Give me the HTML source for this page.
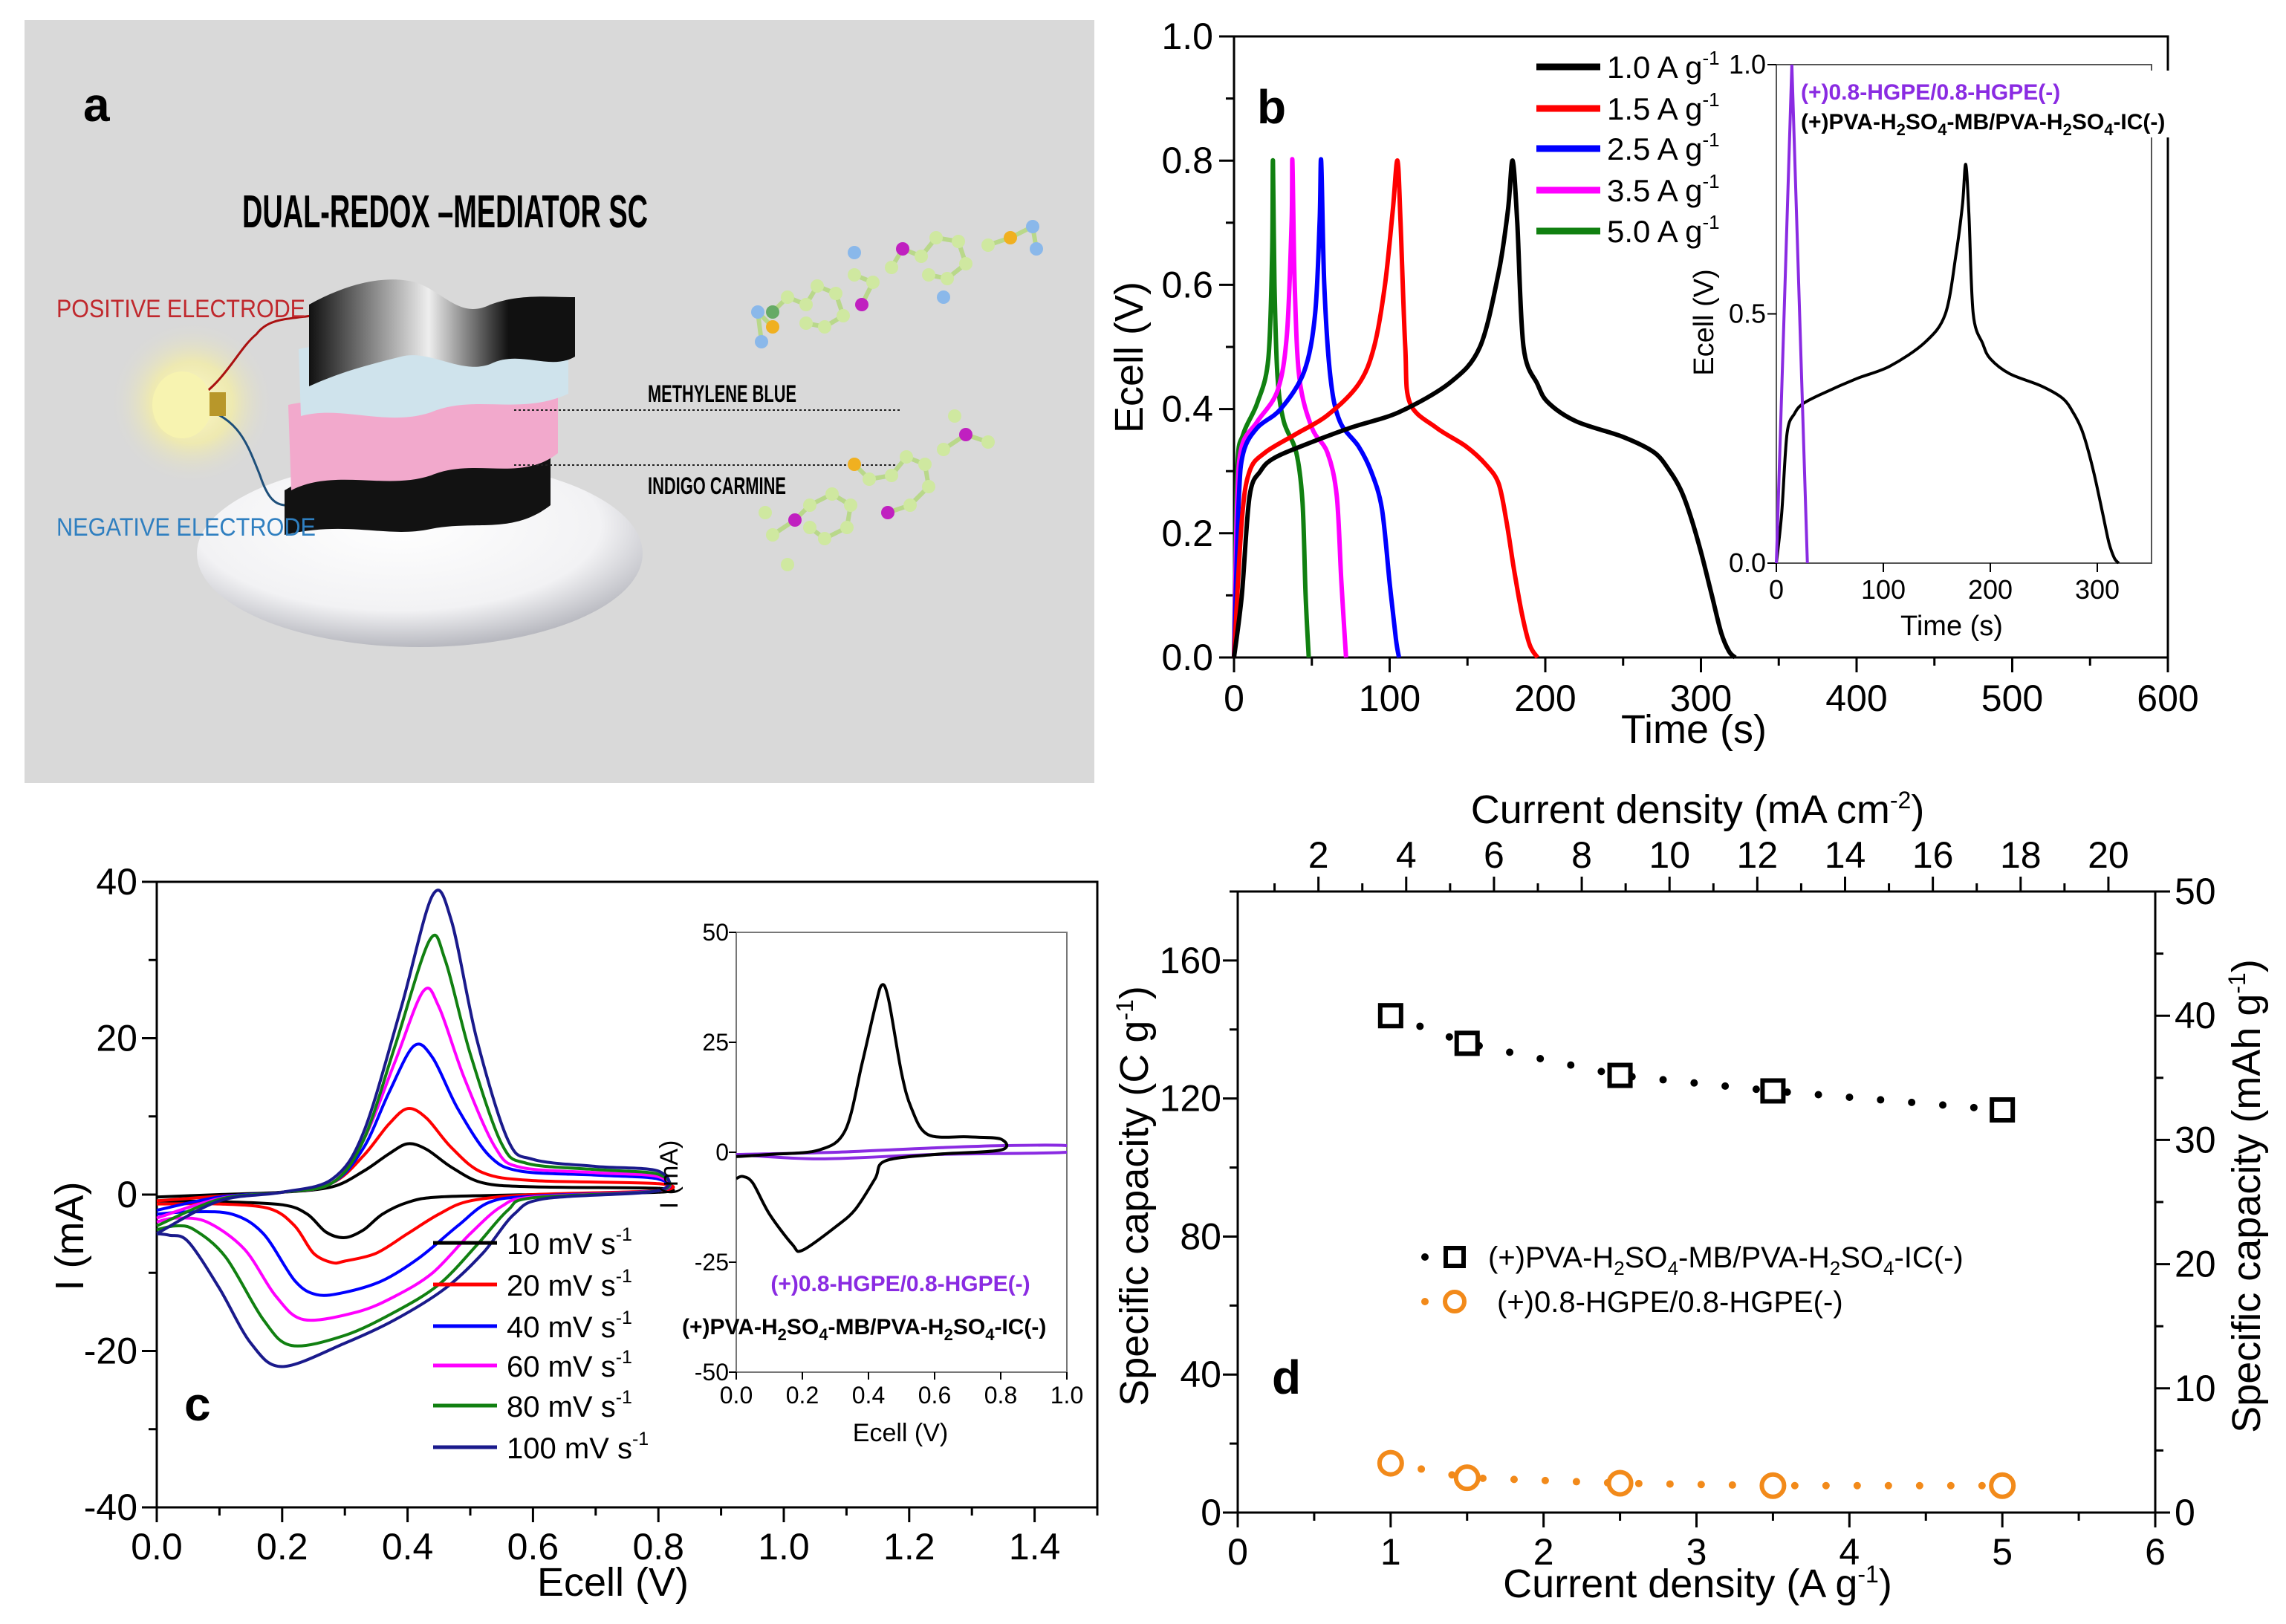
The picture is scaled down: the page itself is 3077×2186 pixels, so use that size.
<!DOCTYPE html>
<html><head><meta charset="utf-8">
<style>
html,body{margin:0;padding:0;background:#fff;}
svg{display:block;}
text{font-family:"Liberation Sans Narrow","Liberation Sans",sans-serif;}
</style></head>
<body>
<svg id="fig" width="3077" height="2186" viewBox="0 0 3077 2186" xmlns="http://www.w3.org/2000/svg">
<defs>
<radialGradient id="glow" cx="50%" cy="50%" r="50%"><stop offset="0%" stop-color="#fffbd0"/><stop offset="50%" stop-color="#f7f0a0" stop-opacity="0.7"/><stop offset="100%" stop-color="#d9d9d9" stop-opacity="0"/></radialGradient>
<radialGradient id="dish" cx="45%" cy="35%" r="65%"><stop offset="0%" stop-color="#ffffff"/><stop offset="70%" stop-color="#f2f2f4"/><stop offset="100%" stop-color="#b8b9c0"/></radialGradient>
<linearGradient id="sheenTop" x1="0" x2="1"><stop offset="0%" stop-color="#111"/><stop offset="45%" stop-color="#eee"/><stop offset="75%" stop-color="#111"/></linearGradient>
<clipPath id="clipIC"><rect x="991" y="1255" width="445" height="592"/></clipPath>
</defs>
<rect x="0" y="0" width="3077" height="2186" fill="#fff"/>
<g id="panelA">
 <rect x="33" y="27" width="1440" height="1027" fill="#d9d9d9"/>
 <text x="112" y="163" font-size="64" font-weight="bold" font-family="Liberation Sans">a</text>
 <text x="326" y="306" font-size="62" font-weight="bold" textLength="546" lengthAdjust="spacingAndGlyphs">DUAL-REDOX –MEDIATOR SC</text>
 <circle cx="258" cy="542" r="110" fill="url(#glow)"/>
 <ellipse cx="565" cy="745" rx="300" ry="126" fill="url(#dish)"/>
 <path d="M258 540 C300 520,320 470,345 450 C360 430,380 430,420 425" stroke="#a11" stroke-width="3" fill="none"/>
 <path d="M258 545 C320 560,330 590,350 640 C360 670,370 680,385 680" stroke="#1e4f7a" stroke-width="3" fill="none"/>
 <path d="M418 640 C 470 600,520 640,580 620 C 640 600,690 640,741 610 L741 680 C690 720,640 700,580 712 C 520 725,470 700,383 720 L383 660 Z" fill="#121212"/>
 <path d="M388 545 C 450 530,520 560,580 540 C 640 520,700 560,751 530 L751 610 C700 650,640 615,580 640 C 520 660,450 630,392 660 Z" fill="#f2a9cc"/>
 <path d="M402 470 C 460 455,520 485,580 465 C 640 445,700 480,765 455 L765 530 C700 560,640 530,580 555 C 520 575,460 545,405 560 Z" fill="#cfe3ec"/>
 <path d="M416 410 C 470 380,520 370,560 380 C 600 395,620 430,660 410 C 700 395,740 400,774 400 L774 480 C 740 500,700 470,660 490 C 620 505,580 470,540 480 C 500 490,460 500,416 520 Z" fill="url(#sheenTop)"/>
 <ellipse cx="245" cy="545" rx="40" ry="45" fill="#f7f3b0"/>
 <rect x="282" y="528" width="22" height="32" fill="#b8972a"/>
 <text x="76" y="427" font-size="34" fill="#c0282d" textLength="335" lengthAdjust="spacingAndGlyphs">POSITIVE ELECTRODE</text>
 <text x="76" y="721" font-size="34" fill="#2f7fc0" textLength="349" lengthAdjust="spacingAndGlyphs">NEGATIVE ELECTRODE</text>
 <text x="872" y="541" font-size="32" font-weight="bold" textLength="200" lengthAdjust="spacingAndGlyphs">METHYLENE BLUE</text>
 <text x="872" y="665" font-size="32" font-weight="bold" textLength="186" lengthAdjust="spacingAndGlyphs">INDIGO CARMINE</text>
 <line x1="692" y1="552" x2="1213" y2="552" stroke="#222" stroke-width="2" stroke-dasharray="3 3"/>
 <line x1="692" y1="626" x2="1213" y2="626" stroke="#222" stroke-width="2" stroke-dasharray="3 3"/>
 <g id="molecules"></g>
</g>
<g id="panelB"></g>
<g id="panelC"></g>
<g id="panelD"></g>
</svg>
<script>
// ---------- Panel b data (time s, Ecell V) ----------
const gcdT_10 = [0,5,10,17,25,43,75,106,139,158,170,176,179,182,186,195,202,220,250,270,280,287,293,300,307,313,318,322];
const gcdV_10 = [0,0.1,0.26,0.3,0.32,0.34,0.37,0.395,0.443,0.5,0.62,0.72,0.8,0.7,0.5,0.44,0.41,0.38,0.355,0.33,0.3,0.27,0.23,0.17,0.1,0.04,0.01,0];
const gcdT_15 = [0,5,10,20,40,60,80,90,97,102,105,107,110,113,130,149,162,170,175,180,185,190,195];
const gcdV_15 = [0,0.22,0.3,0.33,0.36,0.39,0.44,0.5,0.6,0.72,0.8,0.7,0.5,0.41,0.37,0.34,0.31,0.28,0.22,0.14,0.07,0.02,0];
const gcdT_25 = [0,3,6,15,30,45,52,55,56,58,62,68,80,88,95,100,104,106];
const gcdV_25 = [0,0.25,0.33,0.37,0.4,0.46,0.55,0.7,0.8,0.6,0.45,0.38,0.34,0.3,0.24,0.12,0.03,0];
const gcdT_35 = [0,2,5,15,28,34,37,37.5,39,42,50,60,66,69,72];
const gcdV_35 = [0,0.25,0.34,0.38,0.43,0.52,0.7,0.8,0.6,0.45,0.37,0.33,0.26,0.12,0];
const gcdT_50 = [0,2,6,15,22,24.5,25,26,28,32,40,44,46,48];
const gcdV_50 = [0,0.3,0.36,0.41,0.48,0.65,0.8,0.6,0.45,0.38,0.33,0.25,0.1,0];
const gcdLegend = ["1.0 A g","1.5 A g","2.5 A g","3.5 A g","5.0 A g"];
const gcdColors = ["#000","#f00","#00f","#f0f","#118011"];
const bxTicks = [0,100,200,300,400,500,600];
const byTicks = [0,0.2,0.4,0.6,0.8,1.0];
// inset b
const insT_pva = [0,5,10,17,25,43,75,106,139,158,168,174,177,180,184,193,200,218,248,268,278,285,291,298,305,311,316,320];
const insV_pva = [0,0.1,0.26,0.3,0.32,0.34,0.37,0.395,0.443,0.5,0.62,0.72,0.8,0.7,0.5,0.44,0.41,0.38,0.355,0.33,0.3,0.27,0.23,0.17,0.1,0.04,0.01,0];
const insT_hgpe = [0,14.5,29];
const insV_hgpe = [0,1.0,0];
const bixTicks = [0,100,200,300];
const biyTicks = [0,0.5,1.0];

// ---------- Panel c data (Ecell V, I mA) ----------
const cvE_10 = [0,0.1,0.2,0.28,0.33,0.37,0.4,0.43,0.47,0.52,0.6,0.8, 0.8,0.6,0.45,0.4,0.36,0.33,0.3,0.27,0.24,0.2,0.1,0];
const cvI_10 = [-0.3,0,0.3,1,3,5.2,6.5,5.8,3.5,1.5,1.0,0.8, 0.3,0,-0.3,-1,-2.5,-4.5,-5.5,-4.8,-2.5,-1.3,-0.9,-0.8];
const cvE_20 = [0,0.1,0.2,0.28,0.33,0.37,0.4,0.43,0.47,0.52,0.6,0.8, 0.8,0.6,0.5,0.45,0.4,0.35,0.3,0.28,0.25,0.22,0.18,0.1,0];
const cvI_20 = [-0.8,-0.2,0.3,1.5,5,9,11,9.8,6,2.8,1.8,1.4, 0.5,0,-0.8,-2.5,-5,-7.5,-8.5,-8.7,-7.5,-4,-1.8,-1.2,-1.2];
const cvE_40 = [0,0.1,0.2,0.28,0.33,0.37,0.41,0.44,0.48,0.53,0.58,0.7,0.8, 0.8,0.6,0.53,0.48,0.42,0.36,0.3,0.255,0.22,0.17,0.12,0.05,0];
const cvI_40 = [-2,-0.3,0.3,1.5,6,13,19,17.5,11,5,3,2.5,2, 0.5,-0.2,-1,-4,-8,-11,-12.5,-12.8,-11,-5,-2.5,-2.2,-2.5];
const cvE_60 = [0,0.1,0.2,0.28,0.33,0.38,0.425,0.45,0.49,0.54,0.58,0.7,0.8, 0.8,0.6,0.55,0.5,0.44,0.38,0.32,0.235,0.19,0.14,0.08,0.03,0];
const cvI_60 = [-3,-0.5,0.3,1.5,7,17,26,24,15,6,3.5,2.8,2.3, 0.5,-0.3,-1.5,-5,-10,-13,-15,-16,-13,-7,-3.5,-3,-3.5];
const cvE_80 = [0,0.1,0.2,0.28,0.33,0.38,0.435,0.46,0.5,0.55,0.59,0.7,0.8, 0.8,0.6,0.56,0.51,0.45,0.38,0.3,0.215,0.17,0.11,0.06,0.03,0];
const cvI_80 = [-4,-0.6,0.3,1.5,7,19,32.5,30,18,6.5,4,3.2,2.6, 0.5,-0.4,-2,-6.5,-11.5,-15,-18,-19.3,-16,-8,-4.5,-4,-4.5];
const cvE_100 = [0,0.1,0.2,0.28,0.33,0.39,0.44,0.47,0.51,0.56,0.6,0.7,0.8, 0.8,0.62,0.57,0.52,0.46,0.38,0.3,0.2,0.15,0.1,0.05,0.02,0];
const cvI_100 = [-5,-0.8,0.3,2,8,24,38.3,35,20,7,4.5,3.6,3, 0.5,-0.5,-2.5,-7.5,-12,-16,-19,-22,-19,-12,-6,-5.2,-5];
const cvLegend = ["10 mV s","20 mV s","40 mV s","60 mV s","80 mV s","100 mV s"];
const cvColors = ["#000","#f00","#00f","#f0f","#118011","#1a1a8c"];
const cxTicks = [0,0.2,0.4,0.6,0.8,1.0,1.2,1.4];
const cyTicks = [-40,-20,0,20,40];
// inset c
const icE_pva = [0,0.1,0.25,0.33,0.38,0.42,0.44,0.46,0.5,0.53,0.58,0.7,0.8, 0.8,0.6,0.45,0.42,0.36,0.3,0.2,0.17,0.1,0.05,0.02,0];
const icI_pva = [-1,-0.5,0.5,5,20,33,38,35,18,10,4,3.5,3, 0.5,-0.5,-2,-6,-13,-17,-22.3,-21,-14,-7,-5.5,-6];
const icE_hgpe = [0,0.3,0.6,0.8,1.0, 1.0,0.6,0.25,0];
const icI_hgpe = [-0.5,0,1,1.5,1.5, 0,-0.5,-1.5,-0.5];
const cixTicks = [0,0.2,0.4,0.6,0.8,1.0];
const ciyTicks = [-50,-25,0,25,50];

// ---------- Panel d data ----------
const dCurrent = [1,1.5,2.5,3.5,5];
const dCapPVA = [144,136,126.7,122.2,116.7];
const dCapHGPE = [14.3,10.1,8.5,7.8,7.8];
const dxTicks = [0,1,2,3,4,5,6];
const dyTicks = [0,40,80,120,160];
const dyRightTicks = [0,10,20,30,40,50];
const dTopTicks = [2,4,6,8,10,12,14,16,18,20];

const NS="http://www.w3.org/2000/svg";
function mk(tag, attrs, parent){const e=document.createElementNS(NS,tag);for(const k in attrs)e.setAttribute(k,attrs[k]);parent.appendChild(e);return e;}
function lin(d0,d1,r0,r1){return v=>r0+(v-d0)/(d1-d0)*(r1-r0);}
function smooth(pts){
  let d="M"+pts[0][0].toFixed(1)+" "+pts[0][1].toFixed(1);
  for(let i=0;i<pts.length-1;i++){
    const p0=pts[Math.max(0,i-1)],p1=pts[i],p2=pts[i+1],p3=pts[Math.min(pts.length-1,i+2)];
    const t=0.16;
    const c1=[p1[0]+(p2[0]-p0[0])*t,p1[1]+(p2[1]-p0[1])*t];
    const c2=[p2[0]-(p3[0]-p1[0])*t,p2[1]-(p3[1]-p1[1])*t];
    d+=" C"+c1[0].toFixed(1)+" "+c1[1].toFixed(1)+","+c2[0].toFixed(1)+" "+c2[1].toFixed(1)+","+p2[0].toFixed(1)+" "+p2[1].toFixed(1);
  }
  return d;
}
function fmt(v,dec){return v.toFixed(dec);}
function txt(parent,x,y,s,size,attrs){const t=mk("text",Object.assign({x:x,y:y,"font-size":size},attrs||{}),parent);t.textContent=s;return t;}

// ---------- Panel B ----------
(function(){
  const g=document.getElementById("panelB");
  const L=1661,R=2918,T=49,B=885;
  const X=lin(0,600,L,R),Y=lin(0,1,B,T);
  const frame=mk("rect",{x:L,y:T,width:R-L,height:B-T,fill:"none",stroke:"#000","stroke-width":3},g);
  
  
  bxTicks.forEach((v,i)=>{
    const l=mk("line",{x1:X(v),x2:X(v),y1:B,y2:B+20,stroke:"#000","stroke-width":3},g);
    
    
    if(i<bxTicks.length-1){const m=mk("line",{x1:X(v+50),x2:X(v+50),y1:B,y2:B+11,stroke:"#000","stroke-width":3},g);
      
      }
    const t=txt(g,X(v),B+72,String(v),50,{"text-anchor":"middle"});
    
    
  });
  byTicks.forEach((v,i)=>{
    const l=mk("line",{x1:L-20,x2:L,y1:Y(v),y2:Y(v),stroke:"#000","stroke-width":3},g);
    
    
    if(i<byTicks.length-1){const m=mk("line",{x1:L-11,x2:L,y1:Y(v+0.1),y2:Y(v+0.1),stroke:"#000","stroke-width":3},g);
      
      }
    const t=txt(g,L-28,Y(v)+17,fmt(v,1),50,{"text-anchor":"end"});
    
    
  });
  const xt=txt(g,2280,1000,"Time (s)",54,{"text-anchor":"middle"});
  
  
  const yt=txt(g,0,0,"Ecell (V)",54,{"text-anchor":"middle",transform:"translate(1538,481) rotate(-90)"});
  
  
  const lb=txt(g,1692,166,"b",64,{"font-weight":"bold","font-family":"Liberation Sans"});
  
  
  const series=[[gcdT_10,gcdV_10],[gcdT_15,gcdV_15],[gcdT_25,gcdV_25],[gcdT_35,gcdV_35],[gcdT_50,gcdV_50]];
  for(let s=series.length-1;s>=0;s--){
    const pts=series[s][0].map((t,i)=>[X(t),Y(series[s][1][i])]);
    const p=mk("path",{d:smooth(pts),fill:"none",stroke:gcdColors[s],"stroke-width":6,"stroke-linejoin":"round"},g);
    
    
  }
  const ly=[90,146,200,256,311];
  gcdLegend.forEach((s,i)=>{
    const l=mk("line",{x1:2068,x2:2154,y1:ly[i],y2:ly[i],stroke:gcdColors[i],"stroke-width":9},g);
    
    
    const t=txt(g,2163,ly[i]+15,s,42,{});
    
    
    const sp=mk("tspan",{dy:-18,"font-size":26},t);sp.textContent="-1";
  });
  // inset
  const iL=2391,iR=2896,iT=87,iB=758;
  const IX=lin(0,300,iL,2823),IY=lin(0,1,iB,iT);
  const bg=mk("rect",{x:iL,y:iT,width:iR-iL,height:iB-iT,fill:"#fff",stroke:"#555","stroke-width":2},g);
  
  
  bixTicks.forEach(v=>{
    const l=mk("line",{x1:IX(v),x2:IX(v),y1:iB,y2:iB+12,stroke:"#000","stroke-width":2},g);
    
    
    const t=txt(g,IX(v),iB+48,String(v),36,{"text-anchor":"middle"});
    
    
  });
  biyTicks.forEach(v=>{
    const l=mk("line",{x1:iL-12,x2:iL,y1:IY(v),y2:IY(v),stroke:"#000","stroke-width":2},g);
    
    
    const t=txt(g,iL-14,IY(v)+12,fmt(v,1),36,{"text-anchor":"end"});
    
    
  });
  const ixt=txt(g,2627,855,"Time (s)",38,{"text-anchor":"middle"});
  
  
  const iyt=txt(g,0,0,"Ecell (V)",38,{"text-anchor":"middle",transform:"translate(2306,434) rotate(-90)"});
  
  
  const p1=mk("path",{d:smooth(insT_pva.map((t,i)=>[IX(t),IY(insV_pva[i])])),fill:"none",stroke:"#000","stroke-width":4},g);
  
  
  const p2=mk("polyline",{points:insT_hgpe.map((t,i)=>IX(t)+","+IY(insV_hgpe[i])).join(" "),fill:"none",stroke:"#8a2be2","stroke-width":4},g);
  
  
  const bgL=mk("rect",{x:2418,y:95,width:548,height:90,fill:"#fff"},g);
  
  
  const a1=txt(g,2424,134,"(+)0.8-HGPE/0.8-HGPE(-)",30,{fill:"#8a2be2","font-weight":"bold"});
  
  
  const a2=txt(g,2424,174,"",30,{fill:"#000","font-weight":"bold"});
  a2.innerHTML='(+)PVA-H<tspan dy="8" font-size="22">2</tspan><tspan dy="-8">SO</tspan><tspan dy="8" font-size="22">4</tspan><tspan dy="-8">-MB/PVA-H</tspan><tspan dy="8" font-size="22">2</tspan><tspan dy="-8">SO</tspan><tspan dy="8" font-size="22">4</tspan><tspan dy="-8">-IC(-)</tspan>';
  
  
})();

// ---------- Panel C ----------
(function(){
  const g=document.getElementById("panelC");
  const L=211,R=1477,T=1187,B=2029;
  const X=lin(0,1.5,L,R),Y=lin(-40,40,B,T);
  const fr=mk("rect",{x:L,y:T,width:R-L,height:B-T,fill:"none",stroke:"#000","stroke-width":3},g);
  
  
  cxTicks.forEach(v=>{
    const l=mk("line",{x1:X(v),x2:X(v),y1:B,y2:B+20,stroke:"#000","stroke-width":3},g);
    
    
    const m=mk("line",{x1:X(v+0.1),x2:X(v+0.1),y1:B,y2:B+11,stroke:"#000","stroke-width":3},g);
    
    
    const t=txt(g,X(v),B+70,fmt(v,1),50,{"text-anchor":"middle"});
    
    
  });
  cyTicks.forEach((v,i)=>{
    const l=mk("line",{x1:L-20,x2:L,y1:Y(v),y2:Y(v),stroke:"#000","stroke-width":3},g);
    
    
    if(i<cyTicks.length-1){const m=mk("line",{x1:L-11,x2:L,y1:Y(v+10),y2:Y(v+10),stroke:"#000","stroke-width":3},g);
      
      }
    const t=txt(g,L-26,Y(v)+17,String(v),50,{"text-anchor":"end"});
    
    
  });
  const xt=txt(g,825,2148,"Ecell (V)",54,{"text-anchor":"middle"});
  
  
  const yt=txt(g,0,0,"I (mA)",54,{"text-anchor":"middle",transform:"translate(112,1664) rotate(-90)"});
  
  
  const lb=txt(g,248,1912,"c",64,{"font-weight":"bold","font-family":"Liberation Sans"});
  
  
  const series=[[cvE_10,cvI_10],[cvE_20,cvI_20],[cvE_40,cvI_40],[cvE_60,cvI_60],[cvE_80,cvI_80],[cvE_100,cvI_100]];
  series.forEach((s,k)=>{
    const p=mk("path",{d:smooth(s[0].map((e,i)=>[X(e),Y(s[1][i])])),fill:"none",stroke:cvColors[k],"stroke-width":4,"stroke-linejoin":"round"},g);
    
    
  });
  const ly=[1673,1729,1785,1838,1892,1948];
  cvLegend.forEach((s,i)=>{
    const l=mk("line",{x1:583,x2:669,y1:ly[i],y2:ly[i],stroke:cvColors[i],"stroke-width":5},g);
    
    
    const t=txt(g,682,ly[i]+15,s,40,{});
    
    
    const sp=mk("tspan",{dy:-18,"font-size":25},t);sp.textContent="-1";
  });
  // inset
  const iL=991,iR=1436,iT=1255,iB=1847;
  const IX=lin(0,1,iL,iR),IY=lin(-50,50,iB,iT);
  const fr2=mk("rect",{x:iL,y:iT,width:iR-iL,height:iB-iT,fill:"#fff",stroke:"#777","stroke-width":2},g);
  
  
  cixTicks.forEach(v=>{
    const l=mk("line",{x1:IX(v),x2:IX(v),y1:iB,y2:iB+10,stroke:"#000","stroke-width":2},g);
    
    
    const t=txt(g,IX(v),iB+42,fmt(v,1),32,{"text-anchor":"middle"});
    
    
  });
  ciyTicks.forEach(v=>{
    const l=mk("line",{x1:iL-10,x2:iL,y1:IY(v),y2:IY(v),stroke:"#000","stroke-width":2},g);
    
    
    const t=txt(g,iL-10,IY(v)+11,String(v),32,{"text-anchor":"end"});
    
    
  });
  const ixt=txt(g,1212,1940,"Ecell (V)",34,{"text-anchor":"middle"});
  
  
  const iyt=txt(g,0,0,"I (mA)",34,{"text-anchor":"middle",transform:"translate(912,1581) rotate(-90)"});
  
  
  const p2=mk("path",{d:smooth(icE_hgpe.map((e,i)=>[IX(e),IY(icI_hgpe[i])])),fill:"none",stroke:"#8a2be2","stroke-width":4,"clip-path":"url(#clipIC)"},g);
  
  
  const p1=mk("path",{d:smooth(icE_pva.map((e,i)=>[IX(e),IY(icI_pva[i])])),fill:"none",stroke:"#000","stroke-width":4,"clip-path":"url(#clipIC)"},g);
  
  
  const a1=txt(g,1212,1738,"(+)0.8-HGPE/0.8-HGPE(-)",30,{fill:"#8a2be2","font-weight":"bold","text-anchor":"middle"});
  
  
  const a2=txt(g,918,1796,"",30,{fill:"#000","font-weight":"bold"});
  a2.innerHTML='(+)PVA-H<tspan dy="8" font-size="22">2</tspan><tspan dy="-8">SO</tspan><tspan dy="8" font-size="22">4</tspan><tspan dy="-8">-MB/PVA-H</tspan><tspan dy="8" font-size="22">2</tspan><tspan dy="-8">SO</tspan><tspan dy="8" font-size="22">4</tspan><tspan dy="-8">-IC(-)</tspan>';
  
  
})();

// ---------- Panel D ----------
(function(){
  const g=document.getElementById("panelD");
  const L=1666,R=2901,T=1200,B=2036;
  const X=lin(0,6,L,R),Y=lin(0,180,B,T),YR=lin(0,50,B,T);
  const XT=v=>1500+(273+(v-2)*58.72)*1.006;
  const fr=mk("rect",{x:L,y:T,width:R-L,height:B-T,fill:"none",stroke:"#000","stroke-width":3},g);
  
  
  dxTicks.forEach((v,i)=>{
    const l=mk("line",{x1:X(v),x2:X(v),y1:B,y2:B+20,stroke:"#000","stroke-width":3},g);
    
    
    if(i<dxTicks.length-1){const m=mk("line",{x1:X(v+0.5),x2:X(v+0.5),y1:B,y2:B+11,stroke:"#000","stroke-width":3},g);
      
      }
    const t=txt(g,X(v),B+70,String(v),50,{"text-anchor":"middle"});
    
    
  });
  dTopTicks.forEach(v=>{
    const l=mk("line",{x1:XT(v),x2:XT(v),y1:T,y2:T-20,stroke:"#000","stroke-width":3},g);
    
    
    const m=mk("line",{x1:XT(v-1),x2:XT(v-1),y1:T,y2:T-11,stroke:"#000","stroke-width":3},g);
    
    
    const t=txt(g,XT(v),1168,String(v),50,{"text-anchor":"middle"});
    
    
  });
  dyTicks.forEach(v=>{
    const l=mk("line",{x1:L-20,x2:L,y1:Y(v),y2:Y(v),stroke:"#000","stroke-width":3},g);
    
    
    const m=mk("line",{x1:L-11,x2:L,y1:Y(v+20),y2:Y(v+20),stroke:"#000","stroke-width":3},g);
    
    
    const t=txt(g,L-22,Y(v)+17,String(v),50,{"text-anchor":"end"});
    
    
  });
  dyRightTicks.forEach((v,i)=>{
    const l=mk("line",{x1:R,x2:R+20,y1:YR(v),y2:YR(v),stroke:"#000","stroke-width":3},g);
    
    
    if(i<dyRightTicks.length-1){const m=mk("line",{x1:R,x2:R+11,y1:YR(v+5),y2:YR(v+5),stroke:"#000","stroke-width":3},g);
      
      }
    const t=txt(g,R+26,YR(v)+17,String(v),50,{"text-anchor":"start"});
    
    
  });
  const xt=txt(g,2285,2150,"",54,{"text-anchor":"middle"});
  xt.innerHTML='Current density (A g<tspan dy="-20" font-size="32">-1</tspan><tspan dy="20">)</tspan>';
  
  
  const tt=txt(g,2285,1108,"",54,{"text-anchor":"middle"});
  tt.innerHTML='Current density (mA cm<tspan dy="-20" font-size="32">-2</tspan><tspan dy="20">)</tspan>';
  
  
  const yt=txt(g,0,0,"",54,{"text-anchor":"middle",transform:"translate(1545,1610) rotate(-90)"});
  yt.innerHTML='Specific capacity (C g<tspan dy="-20" font-size="32">-1</tspan><tspan dy="20">)</tspan>';
  
  
  const ry=txt(g,0,0,"",54,{"text-anchor":"middle",transform:"translate(3042,1610) rotate(-90)"});
  ry.innerHTML='Specific capacity (mAh g<tspan dy="-20" font-size="32">-1</tspan><tspan dy="20">)</tspan>';
  
  
  const lb=txt(g,1712,1876,"d",64,{"font-weight":"bold","font-family":"Liberation Sans"});
  
  
  const l1=mk("polyline",{points:dCurrent.map((c,i)=>X(c)+","+Y(dCapPVA[i])).join(" "),fill:"none",stroke:"#000","stroke-width":10,"stroke-linecap":"round","stroke-dasharray":"0 42"},g);
  
  
  const l2=mk("polyline",{points:dCurrent.map((c,i)=>X(c)+","+Y(dCapHGPE[i])).join(" "),fill:"none",stroke:"#f28a1a","stroke-width":10,"stroke-linecap":"round","stroke-dasharray":"0 42"},g);
  
  
  dCurrent.forEach((c,i)=>{
    const s=mk("rect",{x:X(c)-14,y:Y(dCapPVA[i])-14,width:28,height:28,fill:"#fff",stroke:"#000","stroke-width":6},g);
    
    
    const o=mk("circle",{cx:X(c),cy:Y(dCapHGPE[i]),r:15,fill:"#fff",stroke:"#f28a1a","stroke-width":6},g);
    
    
  });
  const ld1=mk("line",{x1:1918,x2:1990,y1:1692,y2:1692,stroke:"#000","stroke-width":10,"stroke-linecap":"round","stroke-dasharray":"0 36"},g);
  
  
  const ls1=mk("rect",{x:1946,y:1680,width:24,height:24,fill:"#fff",stroke:"#000","stroke-width":6},g);
  
  
  const lt1=txt(g,2003,1706,"",40,{});
  lt1.innerHTML='(+)PVA-H<tspan dy="10" font-size="26">2</tspan><tspan dy="-10">SO</tspan><tspan dy="10" font-size="26">4</tspan><tspan dy="-10">-MB/PVA-H</tspan><tspan dy="10" font-size="26">2</tspan><tspan dy="-10">SO</tspan><tspan dy="10" font-size="26">4</tspan><tspan dy="-10">-IC(-)</tspan>';
  
  
  const ld2=mk("line",{x1:1918,x2:1990,y1:1752,y2:1752,stroke:"#f28a1a","stroke-width":10,"stroke-linecap":"round","stroke-dasharray":"0 36"},g);
  
  
  const lc2=mk("circle",{cx:1958,cy:1752,r:13,fill:"#fff",stroke:"#f28a1a","stroke-width":6},g);
  
  
  const lt2=txt(g,2015,1766,"(+)0.8-HGPE/0.8-HGPE(-)",40,{});
  
  
})();

// ---------- molecule illustration (decorative) ----------
(function(){
  const g=document.getElementById("molecules");
  const atoms=[
   [1040,420,"#6a6"],[1060,400,"#cfe8a0"],[1085,410,"#cfe8a0"],[1100,385,"#cfe8a0"],[1125,395,"#cfe8a0"],[1135,425,"#cfe8a0"],[1110,440,"#cfe8a0"],[1085,435,"#cfe8a0"],
   [1150,370,"#cfe8a0"],[1175,380,"#cfe8a0"],[1160,410,"#c020c0"],[1200,360,"#cfe8a0"],[1215,335,"#c020c0"],[1240,345,"#cfe8a0"],[1260,320,"#cfe8a0"],[1290,325,"#cfe8a0"],[1300,355,"#cfe8a0"],[1275,375,"#cfe8a0"],[1250,370,"#cfe8a0"],[1330,330,"#cfe8a0"],[1360,320,"#f0b020"],[1390,305,"#8ab8ea"],[1395,335,"#8ab8ea"],[1040,440,"#f0b020"],[1020,420,"#8ab8ea"],[1025,460,"#8ab8ea"],[1150,340,"#8ab8ea"],[1270,400,"#8ab8ea"],
   [1040,720,"#cfe8a0"],[1070,700,"#c020c0"],[1090,680,"#cfe8a0"],[1120,665,"#cfe8a0"],[1145,680,"#cfe8a0"],[1140,710,"#cfe8a0"],[1110,725,"#cfe8a0"],[1090,710,"#cfe8a0"],[1150,625,"#f0b020"],[1170,645,"#cfe8a0"],[1200,640,"#cfe8a0"],[1220,615,"#cfe8a0"],[1245,625,"#cfe8a0"],[1250,655,"#cfe8a0"],[1225,680,"#cfe8a0"],[1195,690,"#c020c0"],[1270,605,"#cfe8a0"],[1300,585,"#c020c0"],[1330,595,"#cfe8a0"],[1285,560,"#cfe8a0"],[1060,760,"#cfe8a0"],[1030,690,"#cfe8a0"]
  ];
  for(let i=0;i<atoms.length-1;i++){
    if(Math.hypot(atoms[i][0]-atoms[i+1][0],atoms[i][1]-atoms[i+1][1])<50){
      const b=mk("line",{x1:atoms[i][0],y1:atoms[i][1],x2:atoms[i+1][0],y2:atoms[i+1][1],stroke:"#b9d88a","stroke-width":6},g);
      
      
    }
  }
  atoms.forEach(a=>{
    const c=mk("circle",{cx:a[0],cy:a[1],r:9,fill:a[2]},g);
    
    
  });
})();
</script>
</body></html>
